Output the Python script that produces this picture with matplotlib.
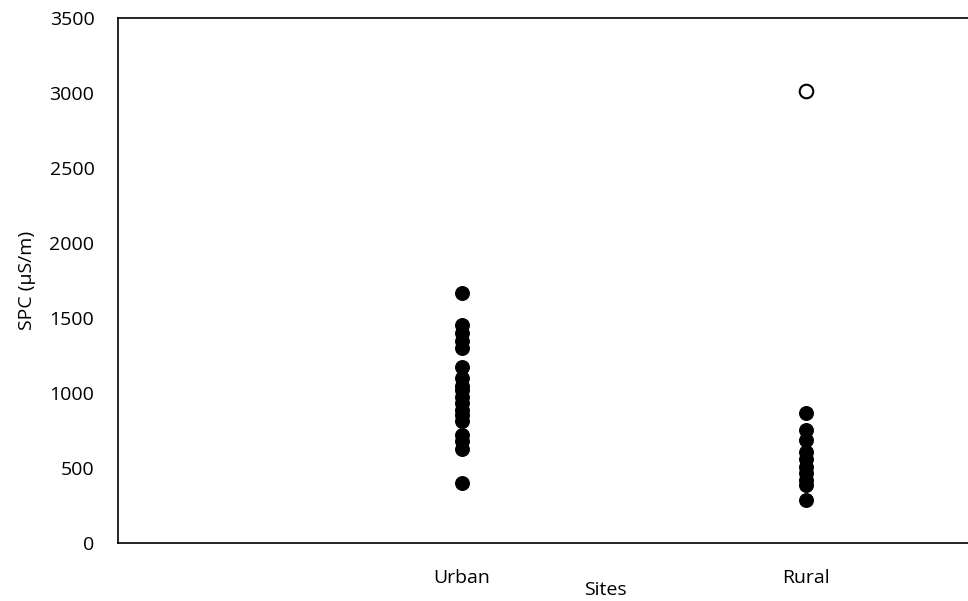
import matplotlib
matplotlib.use("Agg")
import matplotlib.pyplot as plt

# SPC measurements per site group
site_labels = ["Urban", "Rural"]
site_pos = [1, 2]
urban_spc = [1670, 1455, 1400, 1350, 1300, 1175, 1100, 1050, 1020, 975,
             935, 890, 855, 815, 720, 680, 630, 400]
rural_spc = [870, 755, 690, 605, 560, 510, 465, 420, 385, 290]
rural_outlier = [3010]

plt.rcParams['font.family'] = ['Open Sans', 'DejaVu Sans']
FS = 14

fig = plt.figure(figsize=(9.68, 6.01), dpi=100)
ax = fig.add_axes([118/968, 58/601, 860/968, 525/601])

ax.scatter([site_pos[0]] * len(urban_spc), urban_spc, s=95, color='black',
           edgecolors='black', zorder=3)
ax.scatter([site_pos[1]] * len(rural_spc), rural_spc, s=95, color='black',
           edgecolors='black', zorder=3)
ax.scatter([site_pos[1]] * len(rural_outlier), rural_outlier, s=95,
           facecolors='white', edgecolors='black', linewidths=1.5, zorder=3)

ax.set_xlim(0, 2.5)
ax.set_ylim(0, 3500)
ax.set_yticks(range(0, 3501, 500))
ax.set_xticks(site_pos)
ax.set_xticklabels(site_labels)
ax.tick_params(axis='both', length=0, labelsize=FS)
ax.tick_params(axis='y', pad=17)
ax.tick_params(axis='x', pad=19)
for side in ['left', 'top', 'bottom']:
    ax.spines[side].set_linewidth(1.2)
ax.spines['right'].set_visible(False)

ax.set_ylabel("SPC (µS/m)", fontsize=FS, labelpad=10)
fig.text(605/968, 1 - 590/601, "Sites", ha='center', va='center', fontsize=FS)

fig.savefig("out.png", dpi=100)
